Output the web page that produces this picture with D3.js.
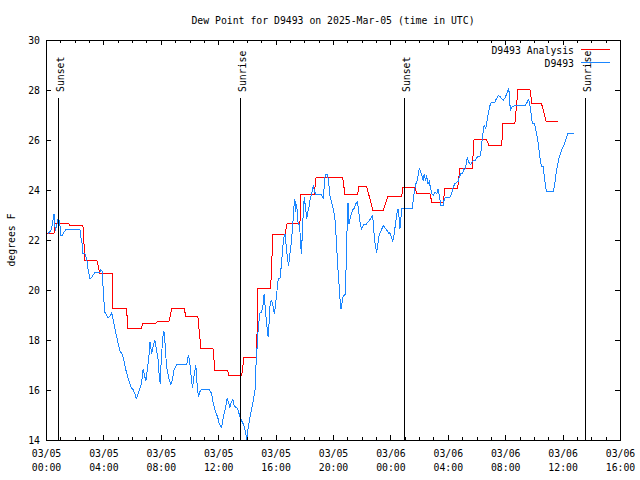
<!DOCTYPE html>
<html><head><meta charset="utf-8">
<script src="https://cdn.jsdelivr.net/npm/d3@7"></script>
<style>
body{margin:0;background:#fff}
text{font-family:"DejaVu Sans Mono","Liberation Mono",monospace;font-size:9.8px;fill:#000}
</style>
</head><body>
<svg id="chart" width="640" height="480"></svg>
<script>
// ---- data (hours since 03/05 00:00 UTC, degrees F) ----
const titleText = "Dew Point for D9493 on 2025-Mar-05 (time in UTC)";
const yLabelText = "degrees F";
const seriesNames = ["D9493 Analysis", "D9493"];

const obsHours = [
0.10,0.31,0.40,0.52,0.61,0.75,0.82,0.92,0.99,1.10,
1.21,1.35,2.33,2.43,2.49,2.54,2.68,2.80,2.89,3.03,
3.15,3.38,3.72,3.79,3.88,3.95,4.00,4.07,4.19,4.30,
4.47,4.54,4.61,4.70,4.84,5.00,5.12,5.26,5.40,5.54,
5.70,5.81,5.93,6.04,6.18,6.25,6.39,6.51,6.63,6.74,
6.86,6.93,7.02,7.14,7.21,7.33,7.44,7.56,7.67,7.79,
7.86,7.93,7.97,8.04,8.11,8.18,8.25,8.32,8.41,8.53,
8.67,8.79,8.88,9.00,9.07,9.77,9.88,9.97,10.04,10.11,
10.18,10.27,10.41,10.46,10.53,10.60,10.67,10.81,11.34,11.51,
11.62,11.79,11.93,12.04,12.20,12.32,12.48,12.59,12.71,12.78,
12.87,12.99,13.08,13.20,13.32,13.41,13.53,13.62,13.76,13.88,
13.95,14.06,14.18,14.30,14.41,14.53,14.59,14.69,14.76,14.87,
14.99,15.10,15.17,15.24,15.34,15.45,15.52,15.59,15.69,15.80,
15.87,15.94,16.04,16.15,16.27,16.39,16.46,16.55,16.62,16.69,
16.78,16.87,16.96,17.05,17.15,17.24,17.31,17.36,17.43,17.54,
17.61,17.71,17.75,17.82,17.89,17.96,18.06,18.13,18.20,18.29,
18.36,18.48,18.59,18.66,18.76,19.17,19.28,19.35,19.42,19.59,
19.66,19.75,19.87,19.98,20.10,20.17,20.26,20.33,20.40,20.47,
20.52,20.59,20.68,20.80,20.87,20.92,20.96,21.01,21.08,21.15,
21.21,21.28,21.38,21.45,21.56,21.65,21.72,21.79,21.86,21.96,
22.03,22.12,22.26,22.38,22.49,22.61,22.73,22.77,22.84,22.91,
23.01,23.08,23.17,23.26,23.35,23.47,23.60,23.74,23.86,23.93,
24.02,24.12,24.19,24.26,24.35,24.42,24.49,24.56,24.63,24.70,
24.77,24.98,25.51,25.56,25.65,25.74,25.84,25.91,25.97,26.07,
26.16,26.25,26.32,26.42,26.49,26.58,26.67,26.77,26.86,26.95,
27.05,27.19,27.30,27.37,27.49,27.65,27.72,27.81,28.11,28.23,
28.34,28.46,28.58,28.69,28.76,28.88,29.00,29.07,29.16,29.25,
29.32,29.39,29.46,29.56,29.63,29.74,29.86,29.98,30.09,30.20,
30.27,30.32,30.39,30.46,30.53,30.60,30.67,30.74,30.81,30.88,
30.95,31.02,31.25,31.32,31.41,31.48,31.60,31.72,31.83,31.95,
32.02,32.13,32.20,32.25,32.30,32.34,32.41,32.53,32.64,33.34,
33.46,33.57,33.64,33.71,33.76,33.85,33.99,34.06,34.16,34.25,
34.34,34.43,34.50,34.62,34.69,34.76,34.83,35.31,35.38,35.45,
35.52,35.62,35.69,35.78,35.85,35.94,36.04,36.13,36.22,36.32,
36.78];

const obsValues = [
22.27,22.40,22.60,23.07,22.40,22.68,22.93,22.73,22.20,22.20,
22.33,22.43,22.43,22.00,21.88,21.49,21.47,21.27,20.88,20.47,
20.53,20.73,20.73,20.83,20.76,20.07,19.60,19.13,19.00,18.91,
19.00,19.11,18.93,18.67,18.27,17.87,17.57,17.47,17.20,16.80,
16.47,16.27,16.09,16.03,15.83,15.67,15.87,16.07,16.33,16.87,
16.53,16.40,16.80,17.40,17.93,17.47,17.80,18.00,17.60,17.20,
16.53,16.27,16.93,17.60,18.13,18.37,18.00,17.33,16.80,16.47,
16.23,16.47,16.80,16.96,17.04,17.04,17.40,17.20,16.80,16.40,
16.11,16.56,17.00,16.53,16.00,15.73,15.93,16.05,16.05,15.87,
15.47,15.13,14.93,14.67,14.53,14.93,15.33,15.71,15.47,15.33,
15.53,15.63,15.40,15.33,15.27,15.09,14.87,14.76,14.60,14.33,
14.03,14.53,14.93,15.27,15.60,16.00,16.93,17.87,18.53,19.09,
19.13,19.47,19.87,19.33,18.67,18.13,18.80,19.53,19.60,19.33,
19.07,19.33,19.87,20.47,20.49,21.13,21.73,22.13,22.27,21.87,
21.33,21.00,21.47,21.87,22.53,23.33,23.67,23.13,23.47,22.64,
22.64,22.07,21.47,22.13,23.07,23.73,23.27,22.87,23.13,23.33,
23.60,23.87,24.20,24.00,23.84,23.84,23.67,24.13,24.64,24.64,
24.33,23.80,23.53,23.27,22.87,22.27,21.33,20.67,20.13,19.53,
19.27,19.47,19.80,19.80,20.80,21.67,22.93,23.51,22.67,22.87,
23.00,23.13,23.27,23.29,23.47,23.53,23.33,23.00,22.67,22.47,
22.57,22.63,22.63,22.73,22.80,22.89,23.00,22.67,22.20,21.80,
21.51,21.80,22.17,22.33,22.44,22.60,22.49,22.40,22.27,22.33,
22.17,21.96,22.13,22.40,22.80,23.07,23.27,23.00,22.47,22.93,
23.27,23.29,23.29,23.67,24.00,24.27,24.40,24.67,24.87,24.76,
24.60,24.40,24.67,24.40,24.60,24.27,24.36,24.07,23.87,23.80,
23.93,23.87,24.07,23.80,23.40,23.40,23.67,23.73,23.73,23.87,
24.13,24.27,24.33,24.37,24.53,24.67,24.67,24.87,24.83,25.07,
25.33,25.20,25.09,25.04,25.13,25.20,25.20,25.31,25.36,25.36,
25.53,25.87,26.13,26.53,26.60,26.47,26.69,26.93,27.13,27.36,
27.47,27.53,27.53,27.63,27.73,27.80,27.76,27.67,27.60,27.71,
27.80,27.93,28.11,27.87,27.40,27.20,27.33,27.36,27.40,27.40,
27.49,27.63,27.57,27.33,27.13,26.69,26.69,26.53,26.27,25.93,
25.53,25.13,24.96,24.96,24.53,24.27,23.96,23.96,24.13,24.40,
24.73,25.00,25.27,25.40,25.53,25.67,25.80,25.93,26.11,26.27,
26.27];

const anaHours = [
0.05,0.52,0.59,1.56,1.63,2.54,2.68,3.51,3.72,4.61,
4.63,5.58,5.67,6.58,6.72,7.63,7.70,8.53,8.74,9.58,
9.72,10.55,10.76,11.60,11.74,12.62,12.71,13.60,13.76,14.64,
14.73,15.62,15.78,16.62,16.76,17.66,17.73,18.66,18.78,20.64,
20.80,21.68,21.77,22.31,22.75,23.47,23.79,24.75,24.84,25.67,
25.81,26.72,26.86,27.65,27.77,28.65,28.81,29.67,29.79,30.67,
30.83,31.72,31.81,32.64,32.85,33.69,33.83,34.50,34.83,35.66];

const anaValues = [
22.28,22.28,22.68,22.68,22.60,22.60,21.20,21.20,20.68,20.68,
19.27,19.27,18.47,18.47,18.70,18.70,18.75,18.75,19.30,19.30,
18.95,18.95,17.68,17.68,16.80,16.80,16.60,16.60,17.33,17.33,
20.07,20.07,22.23,22.23,22.67,22.67,23.84,23.84,24.51,24.51,
23.84,23.84,24.16,24.16,23.20,23.20,23.77,23.77,24.13,24.13,
23.87,23.87,23.52,23.52,24.10,24.10,24.87,24.87,26.03,26.03,
25.80,25.80,26.67,26.67,28.03,28.03,27.47,27.47,26.75,26.75];

const sunHours = [0.82, 13.53, 24.93, 37.56];
const sunLabels = ["Sunset", "Sunrise", "Sunset", "Sunrise"];

const yTickValues = [14,16,18,20,22,24,26,28,30];
const xMajorHours = [0,4,8,12,16,20,24,28,32,36,40];
const xMinorHours = [0,1,2,3,4,5,6,7,8,9,10,11,12,13,14,15,16,17,18,19,20,21,22,23,24,25,26,27,28,29,30,31,32,33,34,35,36,37,38,39,40];
const xTickDates = ["03/05","03/05","03/05","03/05","03/05","03/05","03/06","03/06","03/06","03/06","03/06"];
const xTickTimes = ["00:00","04:00","08:00","12:00","16:00","20:00","00:00","04:00","08:00","12:00","16:00"];

// ---- drawing ----
const svg = d3.select("#chart");
svg.append("rect").attr("width",640).attr("height",480).attr("fill","#fff");

const L = 46, R = 620, T = 40, B = 440;
const x = d3.scaleLinear().domain([0,40]).range([L,R]);
const y = d3.scaleLinear().domain([14,30]).range([B,T]);
const RED = "#ff0000", BLUE = "#1a86ff";

// title
svg.append("text").attr("x",333).attr("y",24).attr("text-anchor","middle").text(titleText);

// data clip
svg.append("clipPath").attr("id","plot").append("rect")
  .attr("x",L).attr("y",T).attr("width",R-L+1).attr("height",B-T+1);

const g = svg.append("g").attr("transform","translate(0.5,0.5)").attr("clip-path","url(#plot)");

const anaData = anaHours.map((h,i)=>({h, v:anaValues[i]}));
const obsData = obsHours.map((h,i)=>({h, v:obsValues[i]}));
const line = d3.line().x(d=>x(d.h)).y(d=>y(d.v));

g.append("path").datum(anaData).attr("d",line)
  .attr("fill","none").attr("stroke",RED).attr("stroke-width",1).attr("shape-rendering","crispEdges");
g.append("path").datum(obsData).attr("d",line)
  .attr("fill","none").attr("stroke",BLUE).attr("stroke-width",1).attr("shape-rendering","crispEdges");

// sunrise / sunset markers
sunHours.forEach((h,i)=>{
  const px = Math.round(x(h)) + 0.5;
  svg.append("line").attr("x1",px).attr("x2",px).attr("y1",98).attr("y2",B)
    .attr("stroke","#000").attr("stroke-width",1).attr("shape-rendering","crispEdges");
  svg.append("text").attr("transform",`translate(${px+5.5},92) rotate(-90)`)
    .attr("text-anchor","start").text(sunLabels[i]);
});

// axes (ticks inward, mirrored)
function styleAxis(sel){
  sel.select(".domain").remove();
  sel.selectAll("line").attr("stroke","#000").attr("shape-rendering","crispEdges");
  sel.selectAll("text").remove();
}
svg.append("g").attr("transform",`translate(0,${B})`)
  .call(d3.axisBottom(x).tickValues(xMinorHours).tickSize(-3).tickFormat("")).call(styleAxis);
svg.append("g").attr("transform",`translate(0,${B})`)
  .call(d3.axisBottom(x).tickValues(xMajorHours).tickSize(-5).tickFormat("")).call(styleAxis);
svg.append("g").attr("transform",`translate(0,${T})`)
  .call(d3.axisTop(x).tickValues(xMinorHours).tickSize(-3).tickFormat("")).call(styleAxis);
svg.append("g").attr("transform",`translate(0,${T})`)
  .call(d3.axisTop(x).tickValues(xMajorHours).tickSize(-5).tickFormat("")).call(styleAxis);
svg.append("g").attr("transform",`translate(${L},0)`)
  .call(d3.axisLeft(y).tickValues(yTickValues).tickSize(-5).tickFormat("")).call(styleAxis);
svg.append("g").attr("transform",`translate(${R},0)`)
  .call(d3.axisRight(y).tickValues(yTickValues).tickSize(-5).tickFormat("")).call(styleAxis);

// border
svg.append("rect").attr("x",L+0.5).attr("y",T+0.5).attr("width",R-L).attr("height",B-T)
  .attr("fill","none").attr("stroke","#000").attr("stroke-width",1).attr("shape-rendering","crispEdges");

// y tick labels
yTickValues.forEach(v=>{
  svg.append("text").attr("x",40).attr("y",y(v)+4).attr("text-anchor","end").text(v);
});
// x tick labels
xMajorHours.forEach((h,i)=>{
  const t = svg.append("text").attr("text-anchor","middle");
  t.append("tspan").attr("x",x(h)+0.5).attr("y",457).text(xTickDates[i]);
  t.append("tspan").attr("x",x(h)+0.5).attr("y",471).text(xTickTimes[i]);
});

// y axis title
svg.append("text").attr("transform","translate(15,240) rotate(-90)").attr("text-anchor","middle").text(yLabelText);

// legend
const legendColors = [RED, BLUE];
seriesNames.forEach((name,i)=>{
  const ly = 49.5 + i*13;
  svg.append("text").attr("x",574).attr("y",ly+4).attr("text-anchor","end").text(name);
  svg.append("line").attr("x1",581).attr("x2",610).attr("y1",ly).attr("y2",ly)
    .attr("stroke",legendColors[i]).attr("stroke-width",1).attr("shape-rendering","crispEdges");
});
</script>
</body></html>
